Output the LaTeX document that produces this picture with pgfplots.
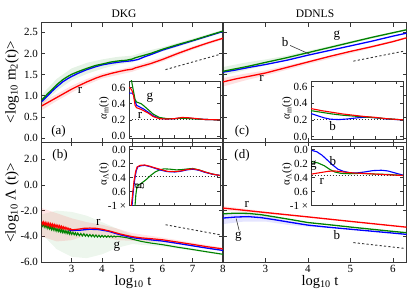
\documentclass[border=0pt]{standalone}
\usepackage{fontspec}
\setmainfont{Liberation Serif}
\usepackage{pgfplots}
\pgfplotsset{compat=1.18}
\definecolor{cr}{RGB}{255,0,0}
\definecolor{cb}{RGB}{0,0,255}
\definecolor{cg}{RGB}{0,130,0}
\definecolor{frm}{RGB}{55,55,55}
\newcommand\tl{\fontsize{11}{11}\selectfont}
\newcommand\lb{\fontsize{13}{13}\selectfont}
\pgfplotsset{
 mainax/.style={scale only axis, anchor=north west,
   axis line style={frm, line width=1pt},
   tick style={frm, line width=0.8pt}, tick align=inside, major tick length=4pt,
   tick pos=both, xticklabel pos=lower, yticklabel pos=left,
   tick label style={font=\tl}, clip=true,
   /pgf/number format/assume math mode=true},
 inax/.style={scale only axis, anchor=north west,
   axis background/.style={fill=white},
   axis line style={frm, line width=0.8pt},
   tick style={frm, line width=0.6pt}, tick align=inside, major tick length=3pt,
   tick pos=both, xticklabel pos=lower, yticklabel pos=left,
   tick label style={font=\tl}, xticklabels={},
   /pgf/number format/assume math mode=true},
 ln/.style={line width=1.3pt},
 iln/.style={line width=1.1pt},
 dsh/.style={frm, line width=0.9pt, dash pattern=on 2.2pt off 2.2pt},
 dot/.style={frm, line width=0.9pt, dash pattern=on 1pt off 2pt},
}
\begin{document}
\begin{tikzpicture}
\path[use as bounding box] (0,0) rectangle (415pt,-291pt);
% ---------------- (a) ----------------
\begin{axis}[mainax, at={(41.5pt,-23pt)}, width=181.5pt, height=119.5pt,
  xmin=2, xmax=8, ymin=-0.1, ymax=2.72,
  xtick={3,4,5,6,7}, xticklabels={},
  ytick={0,0.5,1,1.5,2,2.5}, yticklabels={0.0,0.5,1.0,1.5,2.0,2.5}]
\addplot[fill=cg, fill opacity=0.1, draw=none] coordinates {(2,1.02)(2.5,1.40)(3,1.65)(3.5,1.78)(4,1.86)(4.5,1.92)(5,1.95)(5.5,2.06)(6,2.15)(7,2.35)(8,2.56)(8,2.50)(7,2.27)(6,2.05)(5.5,1.94)(5,1.79)(4.5,1.74)(4,1.64)(3.5,1.52)(3,1.37)(2.5,1.12)(2,0.78)};
\addplot[fill=cr, fill opacity=0.12, draw=none] coordinates {(2,0.86)(2.5,1.04)(3,1.24)(3.5,1.40)(4,1.53)(5,1.69)(6,1.91)(7,2.17)(8,2.39)(8,2.33)(7,2.09)(6,1.81)(5,1.57)(4,1.41)(3.5,1.26)(3,1.08)(2.5,0.88)(2,0.66)};
\addplot[ln, cb] coordinates {(2.0,0.86)(2.1,0.93)(2.2,1.00)(2.35,1.11)(2.5,1.21)(2.7,1.33)(2.85,1.40)(3.0,1.46)(3.2,1.53)(3.5,1.62)(3.8,1.69)(4.0,1.73)(4.3,1.77)(4.6,1.80)(5.0,1.83)(5.2,1.86)(5.4,1.92)(5.6,1.97)(6.0,2.08)(6.5,2.19)(7.0,2.30)(7.5,2.41)(8.0,2.52)};
\addplot[ln, cg] coordinates {(2.0,0.90)(2.1,0.97)(2.2,1.05)(2.35,1.15)(2.5,1.26)(2.7,1.38)(2.85,1.45)(3.0,1.51)(3.2,1.57)(3.5,1.65)(3.8,1.72)(4.0,1.75)(4.3,1.80)(4.6,1.83)(4.8,1.84)(5.0,1.87)(5.1,1.90)(5.3,1.94)(5.6,2.0)(6.0,2.10)(6.5,2.21)(7.0,2.31)(7.5,2.42)(8.0,2.53)};
\addplot[ln, cr] coordinates {(2.0,0.76)(2.1,0.80)(2.2,0.84)(2.35,0.90)(2.5,0.96)(2.7,1.04)(2.85,1.10)(3.0,1.16)(3.2,1.23)(3.5,1.33)(3.8,1.42)(4.0,1.47)(4.3,1.53)(4.6,1.58)(4.8,1.61)(5.0,1.63)(5.1,1.66)(5.3,1.70)(5.6,1.76)(6.0,1.86)(6.5,2.00)(7.0,2.13)(7.5,2.25)(8.0,2.36)};
\addplot[dsh] coordinates {(6.1,1.62)(7.9,1.98)};
\node[font=\lb] at (axis cs:3.27,1.14) {r};
\end{axis}
% ---------------- (c) ----------------
\begin{axis}[mainax, at={(223pt,-23pt)}, width=183.5pt, height=119.5pt,
  xmin=2, xmax=6.32, ymin=-0.1, ymax=2.72,
  xtick={3,4,5,6}, xticklabels={},
  ytick={0,0.5,1,1.5,2,2.5}, yticklabels={}]
\addplot[fill=cg, fill opacity=0.1, draw=none] coordinates {(2,1.68)(2.5,1.78)(3,1.86)(3.5,1.95)(4,2.06)(5,2.29)(6.32,2.58)(6.32,2.54)(5,2.23)(4,1.98)(3.5,1.85)(3,1.72)(2.5,1.60)(2,1.48)};
\addplot[fill=cr, fill opacity=0.12, draw=none] coordinates {(2,1.42)(2.5,1.52)(3,1.60)(4,1.83)(5,2.06)(6.32,2.39)(6.32,2.35)(5,2.0)(4,1.75)(3,1.48)(2.5,1.36)(2,1.22)};
\addplot[ln, cb] coordinates {(2.0,1.56)(2.3,1.61)(2.6,1.67)(3.0,1.74)(3.5,1.84)(4.0,1.96)(4.5,2.07)(5.0,2.18)(5.5,2.29)(6.0,2.41)(6.32,2.48)};
\addplot[ln, cg] coordinates {(2.0,1.58)(2.3,1.64)(2.6,1.70)(3.0,1.79)(3.5,1.90)(4.0,2.02)(4.5,2.14)(5.0,2.26)(5.5,2.38)(6.0,2.49)(6.32,2.56)};
\addplot[ln, cr] coordinates {(2.0,1.33)(2.3,1.40)(2.6,1.46)(3.0,1.54)(3.5,1.67)(4.0,1.80)(4.5,1.93)(5.0,2.05)(5.5,2.16)(6.0,2.28)(6.32,2.37)};
\addplot[dsh] coordinates {(5.07,1.82)(6.28,2.06)};
\draw[frm, line width=0.6pt] (axis cs:3.58,2.19) -- (axis cs:4.05,1.98);
\node[font=\lb] at (axis cs:3.46,2.28) {b};
\node[font=\lb] at (axis cs:4.68,2.42) {g};
\node[font=\lb] at (axis cs:2.91,1.42) {r};
\end{axis}
% ---------------- (b) ----------------
\begin{axis}[mainax, at={(41.5pt,-142.5pt)}, width=181.5pt, height=119.5pt,
  xmin=2, xmax=8, ymin=-6, ymax=3.3,
  xtick={3,4,5,6,7,8}, xticklabels={3,4,5,6,7,8},
  ytick={-6,-4,-2,0,2}, yticklabels={-6.0,-4.0,-2.0,0.0,2.0}]
\addplot[fill=cg, fill opacity=0.07, draw=none] coordinates {(2,-2.3)(2.5,-2.0)(3,-2.1)(3.5,-2.4)(4,-2.9)(4.5,-3.4)(5,-3.9)(6,-4.5)(7,-4.95)(8,-5.33)(8,-5.48)(7,-5.12)(6,-4.8)(5,-4.6)(4.5,-4.9)(4,-5.4)(3.5,-5.7)(3,-5.6)(2.5,-5.0)(2,-3.8)};
\addplot[fill=cr, fill opacity=0.1, draw=none] coordinates {(2,-1.8)(2.5,-2.2)(3,-2.6)(3.5,-2.9)(4,-3.1)(4.5,-3.4)(5,-3.75)(6,-4.1)(7,-4.5)(8,-4.88)(8,-5.08)(7,-4.78)(6,-4.48)(5,-4.35)(4.5,-4.3)(4,-4.0)(3.5,-3.9)(3,-4.3)(2.5,-4.4)(2,-4.0)};
\addplot[ln, cg, line width=1.1pt] coordinates {(2.00,-3.00)(2.03,-3.20)(2.06,-3.02)(2.09,-3.28)(2.12,-3.10)(2.15,-3.32)(2.18,-3.12)(2.21,-3.38)(2.24,-3.20)(2.27,-3.42)(2.30,-3.25)(2.33,-3.48)(2.36,-3.28)(2.39,-3.50)(2.42,-3.32)(2.45,-3.55)(2.48,-3.38)(2.51,-3.60)(2.54,-3.42)(2.57,-3.62)(2.60,-3.45)(2.63,-3.66)(2.66,-3.48)(2.69,-3.70)(2.72,-3.52)(2.75,-3.72)(2.78,-3.55)(2.81,-3.76)(2.84,-3.58)(2.87,-3.78)(2.90,-3.60)(2.93,-3.82)(2.96,-3.64)(3.00,-3.85)(3.04,-3.68)(3.08,-3.88)(3.12,-3.72)(3.16,-3.92)(3.20,-3.75)(3.25,-3.95)(3.30,-3.78)(3.35,-3.97)(3.40,-3.80)(3.45,-3.99)(3.50,-3.84)(3.55,-4.02)(3.60,-3.86)(3.65,-4.03)(3.70,-3.88)(3.75,-4.05)(3.80,-3.90)(3.85,-4.06)(3.90,-3.92)(3.95,-4.07)(4.00,-3.93)(4.05,-4.06)(4.10,-3.95)(4.15,-4.07)(4.20,-3.96)(4.25,-4.06)(4.30,-3.97)(4.35,-4.06)(4.40,-3.98)(4.45,-4.05)(4.50,-4.00)(4.60,-4.03)(4.8,-4.10)(5.0,-4.22)(5.3,-4.40)(5.6,-4.52)(6.0,-4.65)(6.5,-4.85)(7.0,-5.03)(7.5,-5.22)(8.0,-5.40)};
\addplot[ln, cb] coordinates {(2.9,-3.52)(3.0,-3.55)(3.3,-3.52)(3.6,-3.45)(3.9,-3.48)(4.2,-3.6)(4.6,-3.88)(5.0,-4.1)(5.3,-4.2)(5.6,-4.27)(6.0,-4.37)(6.5,-4.55)(7.0,-4.74)(7.5,-4.93)(8.0,-5.1)};
\addplot[ln, cr, line width=1.2pt] coordinates {(2.00,-2.85)(2.03,-3.05)(2.06,-2.88)(2.09,-3.10)(2.12,-2.92)(2.15,-3.12)(2.18,-2.95)(2.21,-3.16)(2.24,-2.98)(2.27,-3.20)(2.30,-3.02)(2.33,-3.22)(2.36,-3.05)(2.39,-3.25)(2.42,-3.08)(2.45,-3.28)(2.48,-3.12)(2.51,-3.30)(2.54,-3.15)(2.57,-3.34)(2.60,-3.18)(2.63,-3.36)(2.66,-3.22)(2.69,-3.40)(2.72,-3.26)(2.75,-3.42)(2.78,-3.30)(2.81,-3.45)(2.84,-3.33)(2.87,-3.47)(2.90,-3.38)(2.93,-3.50)(2.96,-3.42)(3.00,-3.50)(3.2,-3.45)(3.4,-3.38)(3.6,-3.36)(3.8,-3.38)(4.0,-3.45)(4.3,-3.62)(4.6,-3.82)(5.0,-4.03)(5.3,-4.12)(5.6,-4.18)(6.0,-4.27)(6.5,-4.45)(7.0,-4.63)(7.5,-4.82)(8.0,-4.98)};
\addplot[dsh] coordinates {(6.1,-3.1)(7.9,-3.88)};
\node[font=\lb] at (axis cs:3.88,-2.95) {r};
\node[font=\lb] at (axis cs:4.49,-4.81) {g};
\end{axis}
% ---------------- (d) ----------------
\begin{axis}[mainax, at={(223pt,-142.5pt)}, width=183.5pt, height=119.5pt,
  xmin=2, xmax=6.32, ymin=-6, ymax=3.3,
  xtick={3,4,5,6}, xticklabels={3,4,5,6},
  ytick={-6,-4,-2,0,2}, yticklabels={}]
\addplot[fill=cb, fill opacity=0.1, draw=none] coordinates {(2,-2.25)(2.5,-2.25)(3,-2.40)(3.5,-2.75)(4,-3.05)(4.5,-3.25)(4.5,-3.36)(4,-3.25)(3.5,-3.1)(3,-2.85)(2.5,-2.85)(2,-3.05)};
\addplot[fill=cr, fill opacity=0.1, draw=none] coordinates {(2,-1.65)(2.5,-1.85)(3,-2.08)(4,-2.45)(6.32,-3.27)(6.32,-3.31)(4,-2.55)(3,-2.25)(2.5,-2.10)(2,-1.98)};
\addplot[ln, cb] coordinates {(2.0,-2.58)(2.3,-2.50)(2.6,-2.47)(2.9,-2.55)(3.2,-2.70)(3.6,-2.92)(4.0,-3.13)(4.5,-3.30)(5.0,-3.45)(5.5,-3.60)(6.0,-3.75)(6.32,-3.85)};
\addplot[ln, cg] coordinates {(2.0,-2.25)(2.3,-2.20)(2.6,-2.22)(2.9,-2.32)(3.2,-2.48)(3.6,-2.70)(4.0,-2.93)(4.5,-3.10)(5.0,-3.28)(5.5,-3.45)(6.0,-3.62)(6.32,-3.72)};
\addplot[ln, cr] coordinates {(2,-1.80)(3,-2.15)(4,-2.49)(5,-2.84)(6,-3.18)(6.32,-3.29)};
\addplot[dsh] coordinates {(5.07,-4.49)(6.25,-4.93)};
\draw[frm, line width=0.6pt] (axis cs:2.38,-3.55) -- (axis cs:2.31,-2.62);
\node[font=\lb] at (axis cs:2.56,-1.52) {r};
\node[font=\lb] at (axis cs:2.36,-4.03) {g};
\node[font=\lb] at (axis cs:4.68,-3.90) {b};
\end{axis}
% ---------------- inset (a) ----------------
\begin{axis}[inax, at={(129pt,-81pt)}, width=91pt, height=57.5pt,
  xmin=2, xmax=8, ymin=-0.03, ymax=0.68, xtick={3,4,5,6,7},
  ytick={0,0.2,0.4,0.6}, yticklabels={0.0,0.2,0.4,0.6}]
\addplot[dot] coordinates {(2,0.2)(8,0.2)};
\addplot[iln, cb] coordinates {(2.0,0.53)(2.2,0.53)(2.3,0.51)(2.4,0.43)(2.5,0.38)(2.8,0.35)(3.0,0.33)(3.3,0.29)(3.6,0.25)(4.0,0.22)(4.5,0.21)(5.0,0.215)(5.5,0.225)(6.0,0.22)(7.0,0.205)(8.0,0.20)};
\addplot[iln, cg] coordinates {(2.15,0.70)(2.3,0.55)(2.4,0.45)(2.5,0.42)(2.8,0.40)(3.0,0.37)(3.3,0.32)(3.6,0.27)(4.0,0.23)(4.5,0.215)(5.0,0.215)(5.5,0.22)(6.0,0.215)(7.0,0.205)(8.0,0.20)};
\addplot[iln, cr] coordinates {(2.0,0.60)(2.1,0.59)(2.2,0.56)(2.3,0.50)(2.4,0.38)(2.5,0.35)(2.8,0.33)(3.0,0.31)(3.3,0.28)(3.6,0.24)(4.0,0.215)(4.5,0.21)(5.0,0.215)(5.5,0.23)(6.0,0.225)(6.5,0.215)(7.0,0.205)(8.0,0.20)};
\node[font=\lb] at (axis cs:3.38,0.47) {g};
\node[font=\lb] at (axis cs:2.72,0.26) {r};
\end{axis}
% ---------------- inset (c) ----------------
\begin{axis}[inax, at={(311pt,-81pt)}, width=92pt, height=58pt,
  xmin=2, xmax=6.32, ymin=-0.03, ymax=0.666, xtick={3,4,5,6},
  ytick={0,0.2,0.4,0.6}, yticklabels={0.0,0.2,0.4,0.6}]
\addplot[dot] coordinates {(2,0.2)(6.32,0.2)};
\addplot[iln, cb] coordinates {(2,0.275)(2.3,0.25)(2.6,0.225)(2.9,0.208)(3.3,0.203)(3.7,0.21)(4.2,0.225)(4.6,0.232)(5.0,0.225)(5.5,0.212)(6.0,0.203)(6.32,0.20)};
\addplot[iln, cg] coordinates {(2,0.31)(2.5,0.29)(3,0.27)(3.5,0.255)(4,0.245)(4.5,0.235)(5,0.225)(5.5,0.215)(6,0.205)(6.32,0.20)};
\addplot[iln, cr] coordinates {(2,0.335)(2.5,0.31)(3,0.29)(3.5,0.27)(4,0.255)(4.5,0.24)(5,0.23)(5.5,0.215)(6,0.205)(6.32,0.20)};
\node[font=\lb] at (axis cs:3.02,0.13) {b};
\end{axis}
% ---------------- inset (b) ----------------
\begin{axis}[inax, at={(129.5pt,-146.5pt)}, width=90.5pt, height=59pt,
  xmin=2, xmax=8, ymin=-0.045, ymax=0.8, y dir=reverse, xtick={3,4,5,6,7},
  ytick={0,0.2,0.4,0.6,0.8}, yticklabels={0.0,0.2,0.4,0.6,-1 ×}]
\addplot[dot] coordinates {(2.4,0.38)(8,0.38)};
\addplot[iln, cg] coordinates {(2.35,0.85)(2.42,0.65)(2.5,0.52)(2.8,0.48)(3.1,0.43)(3.4,0.37)(3.7,0.32)(4.0,0.29)(4.3,0.275)(4.7,0.28)(5.1,0.29)(5.5,0.285)(5.9,0.275)(6.2,0.27)(6.6,0.29)(7.0,0.32)(7.5,0.35)(8.0,0.37)};
\addplot[iln, cb] coordinates {(2.15,0.85)(2.25,0.6)(2.35,0.42)(2.45,0.3)(2.55,0.245)(2.8,0.23)(3.0,0.225)(3.3,0.24)(3.6,0.26)(4.0,0.29)(4.5,0.315)(5.0,0.32)(5.4,0.31)(5.8,0.29)(6.2,0.28)(6.6,0.295)(7.0,0.325)(7.5,0.352)(8.0,0.37)};
\addplot[iln, cr] coordinates {(2.1,0.85)(2.2,0.65)(2.3,0.45)(2.4,0.32)(2.5,0.25)(2.7,0.225)(3.0,0.22)(3.3,0.235)(3.6,0.255)(4.0,0.28)(4.5,0.31)(5.0,0.315)(5.4,0.305)(5.8,0.285)(6.2,0.275)(6.6,0.29)(7.0,0.32)(7.5,0.35)(8.0,0.37)};
\node[font=\lb, rotate=90] at (axis cs:2.66,0.53) {g};
\end{axis}
% ---------------- inset (d) ----------------
\begin{axis}[inax, at={(311.5pt,-146.5pt)}, width=91.5pt, height=59pt,
  xmin=2, xmax=6.32, ymin=-0.045, ymax=0.8, y dir=reverse, xtick={3,4,5,6},
  ytick={0,0.2,0.4,0.6,0.8}, yticklabels={0.0,0.2,0.4,0.6,-1 ×}]
\addplot[dot] coordinates {(2,0.37)(6.32,0.37)};
\addplot[iln, cb] coordinates {(2.0,0.01)(2.25,0.03)(2.5,0.08)(2.75,0.15)(3.0,0.22)(3.25,0.28)(3.5,0.31)(3.8,0.33)(4.1,0.335)(4.5,0.32)(4.9,0.30)(5.3,0.295)(5.6,0.305)(5.9,0.33)(6.32,0.365)};
\addplot[iln, cg] coordinates {(2.0,0.17)(2.3,0.19)(2.6,0.23)(2.9,0.29)(3.1,0.32)(3.4,0.34)(3.8,0.345)(4.3,0.34)(5.0,0.35)(5.6,0.355)(6.32,0.37)};
\addplot[iln, cr] coordinates {(2.0,0.35)(2.4,0.33)(2.8,0.31)(3.1,0.305)(3.5,0.32)(4.0,0.335)(4.5,0.34)(5.0,0.35)(5.6,0.36)(6.32,0.37)};
\node[font=\lb] at (axis cs:3.01,0.17) {b};
\node[font=\lb] at (axis cs:2.09,0.23) {g};
\node[font=\lb] at (axis cs:2.48,0.46) {r};
\end{axis}
% ---------------- texts ----------------
\node[font=\fontsize{11.5}{11.5}\selectfont, anchor=base] at (124pt,-18pt) {DKG};
\node[font=\fontsize{11.5}{11.5}\selectfont, anchor=base] at (315pt,-18pt) {DDNLS};
\node[font=\fontsize{15}{15}\selectfont, rotate=90] at (12pt,-82pt) {<log\textsubscript{10} m\textsubscript{2}(t)>};
\node[font=\fontsize{15}{15}\selectfont, rotate=90] at (12pt,-203pt) {<log\textsubscript{10} Λ (t)>};
\node[font=\fontsize{14.5}{14.5}\selectfont, anchor=base] at (133pt,-285pt) {log\textsubscript{10} t};
\node[font=\fontsize{14.5}{14.5}\selectfont, anchor=base] at (320pt,-285pt) {log\textsubscript{10} t};
\node[font=\fontsize{11}{11}\selectfont, rotate=90] at (104pt,-108pt) {{\itshape α}\textsubscript{m}(t)};
\node[font=\fontsize{11}{11}\selectfont, rotate=90] at (287pt,-108pt) {{\itshape α}\textsubscript{m}(t)};
\node[font=\fontsize{11}{11}\selectfont, rotate=90] at (104pt,-174pt) {α\textsubscript{Λ}(t)};
\node[font=\fontsize{11}{11}\selectfont, rotate=90] at (287pt,-174pt) {α\textsubscript{Λ}(t)};
\node[font=\lb] at (58.5pt,-131pt) {(a)};
\node[font=\lb] at (60pt,-155pt) {(b)};
\node[font=\lb] at (242pt,-131pt) {(c)};
\node[font=\lb] at (242pt,-155pt) {(d)};
\end{tikzpicture}
\end{document}
